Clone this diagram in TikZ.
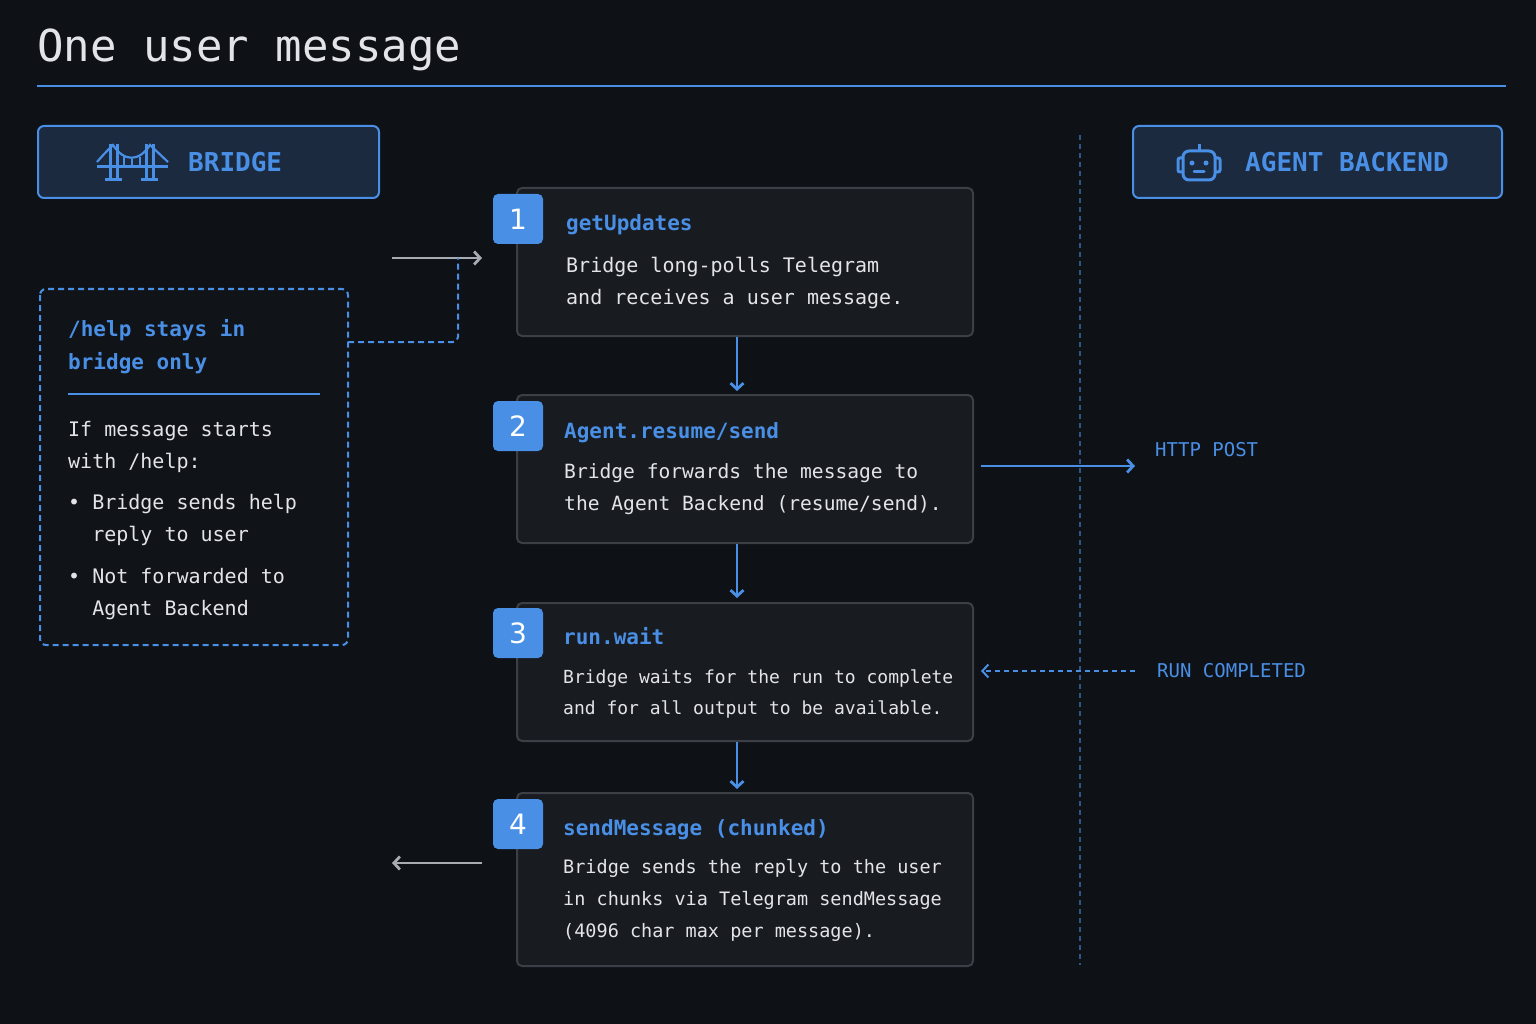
\documentclass[tikz,border=0pt]{standalone}
\usepackage{fontspec}
\setmonofont{DejaVu Sans Mono}
\setmainfont{DejaVu Sans}
\usetikzlibrary{arrows.meta}
\definecolor{bg}{HTML}{0E1116}
\definecolor{card}{HTML}{181B20}
\definecolor{edge}{HTML}{3C4046}
\definecolor{blu}{HTML}{4A8FE6}
\definecolor{hdr}{HTML}{1B2A3E}
\definecolor{txt}{HTML}{E2E4E8}
\definecolor{gry}{HTML}{A8ACB2}
\begin{document}
\begin{tikzpicture}[x=1pt,y=-1pt,
  card/.style={draw=edge,line width=2pt,fill=card,rounded corners=5pt},
  badge/.style={fill=blu,rounded corners=5pt,minimum width=50pt,minimum height=50pt,text=white,font=\fontsize{28}{28}\selectfont},
  head/.style={anchor=base west,text=blu,font=\ttfamily\bfseries\fontsize{21}{24}\selectfont,inner sep=0},
  body/.style={anchor=north west,text=txt,font=\ttfamily\fontsize{20}{32}\selectfont,inner sep=0,align=left},
  hbox/.style={draw=blu,line width=2pt,fill=hdr,rounded corners=6pt},
  flow/.style={blu,line width=2.8pt,-{Straight Barb[length=6pt,width=13pt]}},
  garr/.style={gry,line width=2.8pt,-{Straight Barb[length=6pt,width=13pt]}},
  lbl/.style={text=blu,font=\ttfamily\fontsize{19}{20}\selectfont,anchor=west,inner sep=0}]
\fill[bg] (0,0) rectangle (1536,1024);
\useasboundingbox (0,0) rectangle (1536,1024);
\node[anchor=base west,inner sep=0,text=txt,font=\ttfamily\fontsize{44}{44}\selectfont] (title) at (37,62) {One user message};
\draw[blu,line width=2pt] (37,86) coordinate (tl) -- (1506,86) coordinate (tr);
% headers
\draw[hbox] (38,126) rectangle (379,198);
\node[anchor=west,inner sep=0,text=blu,font=\ttfamily\bfseries\fontsize{26}{26}\selectfont] (bridge) at (188,162) {BRIDGE};
\begin{scope}[blu,line width=3pt]
\draw (97,167)--(168,167);
\draw (110,144)--(110,180) (117,144)--(117,180);
\draw (146,144)--(146,180) (153,144)--(153,180);
\draw (105,180)--(122,180) (141,180)--(158,180);
\draw[line width=2.2pt] (97,162) .. controls (104,154) .. (113,145) .. controls (124,162) and (139,162) .. (150,145) .. controls (159,154) .. (168,162);
\draw[line width=1.5pt] (124,157)--(124,167) (132,159)--(132,167) (140,157)--(140,167);
\end{scope}
\draw[hbox] (1133,126) rectangle (1502,198);
\node[anchor=west,inner sep=0,text=blu,font=\ttfamily\bfseries\fontsize{26}{26}\selectfont] (agent) at (1245,162) {AGENT BACKEND};
\begin{scope}[blu,line width=3pt]
\draw[rounded corners=6pt] (1183,151) rectangle (1215,180);
\draw (1199,151)--(1199,144);
\draw[rounded corners=2pt] (1183,158)--(1178,158)--(1178,172)--(1183,172);
\draw[rounded corners=2pt] (1215,158)--(1220,158)--(1220,172)--(1215,172);
\fill (1192,163) circle (2.5pt) (1206,163) circle (2.5pt);
\draw[line cap=round] (1194,172)--(1204,172);
\end{scope}
\draw[blu!55!bg,line width=1.3pt,dash pattern=on 5pt off 4pt] (1080,135) coordinate (v1) -- (1080,965) coordinate (v2);
% cards
\draw[card] (517,188) rectangle (973,336);
\draw[card] (517,395) rectangle (973,543);
\draw[card] (517,603) rectangle (973,741);
\draw[card] (517,793) rectangle (973,966);
\node[badge] (b1) at (518,219) {1};
\node[badge] (b2) at (518,426) {2};
\node[badge] (b3) at (518,633) {3};
\node[badge] (b4) at (518,824) {4};
\node[head] (h1) at (566,231) {getUpdates};
\node[body] (t1) at (566,257) {Bridge long-polls Telegram\\and receives a user message.};
\node[head] (h2) at (564,438) {Agent.resume/send};
\node[body,font=\ttfamily\fontsize{19.6}{32}\selectfont] (t2) at (564,463) {Bridge forwards the message to\\the Agent Backend (resume/send).};
\node[head] (h3) at (563,644) {run.wait};
\node[body,font=\ttfamily\fontsize{18}{31}\selectfont] (t3) at (563,670) {Bridge waits for the run to complete\\and for all output to be available.};
\node[head] (h4) at (563,835) {sendMessage (chunked)};
\node[body,font=\ttfamily\fontsize{18.5}{32}\selectfont] (t4) at (563,859) {Bridge sends the reply to the user\\in chunks via Telegram sendMessage\\(4096 char max per message).};
% down arrows
\coordinate (d1a) at (737,337); \coordinate (d1b) at (737,391);
\coordinate (d2a) at (737,544); \coordinate (d2b) at (737,598);
\coordinate (d3a) at (737,742); \coordinate (d3b) at (737,789);
\draw[flow] (d1a)--(d1b); \draw[flow] (d2a)--(d2b); \draw[flow] (d3a)--(d3b);
% side arrows
\coordinate (g1a) at (392,258); \coordinate (g1b) at (482,258);
\draw[garr] (g1a)--(g1b);
\coordinate (g4a) at (482,863); \coordinate (g4b) at (392,863);
\draw[garr] (g4a)--(g4b);
\coordinate (hpa) at (981,466); \coordinate (hpb) at (1135,466);
\draw[flow] (hpa)--(hpb);
\node[lbl] (hp) at (1155,450) {HTTP POST};
\coordinate (rca) at (1135,671); \coordinate (rcb) at (981,671);
\draw[flow,line width=2pt,dash pattern=on 5pt off 4pt] (rca)--(rcb);
\node[lbl] (rc) at (1157,671) {RUN COMPLETED};
% help box
\draw[blu,line width=2pt,dash pattern=on 6pt off 4pt,fill=bg!80!card,rounded corners=6pt] (40,289) rectangle (348,645);
\coordinate (hc) at (348,342);
\draw[blu,line width=2pt,dash pattern=on 6pt off 4pt,rounded corners=5pt] (hc)--(458,342)--(458,258);
\node[anchor=north west,inner sep=0,text=blu,align=left,font=\ttfamily\bfseries\fontsize{21}{33}\selectfont] (hh) at (68,319) {/help stays in\\bridge only};
\draw[blu,line width=2pt] (68,394) coordinate (s1) -- (320,394) coordinate (s2);
\node[body] (hb) at (68,421) {If message starts\\with /help:};
\node[body,text=txt] (bl1) at (68,494) {\textbullet\ Bridge sends help\\\phantom{\textbullet\ }reply to user};
\node[body,text=txt] (bl2) at (68,568) {\textbullet\ Not forwarded to\\\phantom{\textbullet\ }Agent Backend};
\end{tikzpicture}
\end{document}
